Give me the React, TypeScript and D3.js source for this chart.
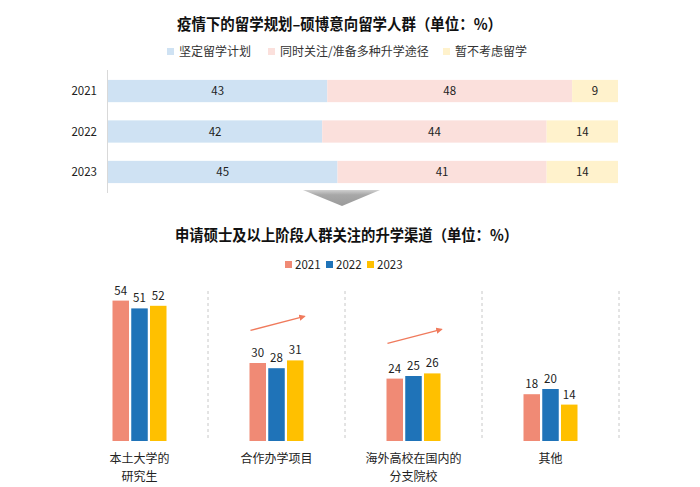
import { useEffect } from 'react';
import * as d3 from 'd3';

// top chart: stacked 100% bars
const YEARS = ['2021', '2022', '2023'];
const PLAN_SERIES = ['坚定留学计划', '同时关注/准备多种升学途径', '暂不考虑留学'];
const PLAN_VALUES = [
  [43, 48, 9],
  [42, 44, 14],
  [45, 41, 14],
];
const PLAN_COLORS = ['#CFE2F3', '#FBE0DC', '#FFF2CC'];

// bottom chart: grouped bars
const CHANNELS = [['本土大学的', '研究生'], ['合作办学项目'], ['海外高校在国内的', '分支院校'], ['其他']];
const CHANNEL_VALUES = [
  [54, 51, 52],
  [30, 28, 31],
  [24, 25, 26],
  [18, 20, 14],
];
const YEAR_COLORS = ['#F08A75', '#1F73B8', '#FFC000'];
const TREND_CHANNELS = [1, 2];

const W = 700;
const H = 487;
const FONT = '"Noto Sans CJK SC", "Noto Sans", sans-serif';

export default function App() {
  useEffect(() => {
    document.body.style.margin = '0';
  }, []);

  // top scales
  const xTop = d3.scaleLinear().domain([0, 100]).range([108, 618]);
  const yTop = d3.scaleBand().domain(YEARS).range([71, 192]).paddingInner(0.45).paddingOuter(0.22);

  // bottom scales
  const xGroup = d3.scaleBand().domain(CHANNELS.map(c => c.join(''))).range([71, 619]);
  const xInner = d3.scaleBand().domain(YEARS).range([0, 54]).paddingInner(0.12);
  const yBot = d3.scaleLinear().domain([0, 60]).range([441, 285]);

  const groupCenter = (i: number) => xGroup(CHANNELS[i].join(''))! + xGroup.bandwidth() / 2;
  const barX = (i: number, j: number) => groupCenter(i) - 27 + xInner(YEARS[j])!;

  const topLegendX = [171, 272, 447];
  const botLegendX = [289, 330, 371];

  return (
    <svg width={W} height={H} style={{ display: 'block', fontFamily: FONT }}>
      <defs>
        <marker id="arrowhead" viewBox="0 0 10 10" refX="8" refY="5" markerWidth="5" markerHeight="5" orient="auto">
          <path d="M0,0 L10,5 L0,10 z" fill="#F07A5C" />
        </marker>
        <linearGradient id="tri" x1="0" y1="0" x2="0" y2="1">
          <stop offset="0" stopColor="#cfcfcf" />
          <stop offset="0.3" stopColor="#a8a8a8" />
          <stop offset="1" stopColor="#9a9a9a" />
        </linearGradient>
      </defs>
      <rect width={W} height={H} fill="#fff" />

      {/* top title */}
      <text x={177} y={30} fontSize={15.5} fontWeight="bold" fill="#111" textLength={325} lengthAdjust="spacingAndGlyphs">
        疫情下的留学规划–硕博意向留学人群（单位：%）
      </text>
      {PLAN_SERIES.map((s, k) => (
        <g key={s}>
          <rect x={topLegendX[k] - 4} y={48} width={7} height={7} fill={PLAN_COLORS[k]} />
          <text x={topLegendX[k] + 8} y={56} fontSize={12} fill="#333">{s}</text>
        </g>
      ))}

      {/* top stacked bars */}
      <line x1={xTop(0) - 0.5} x2={xTop(0) - 0.5} y1={70} y2={193} stroke="#d9d9d9" />
      {YEARS.map((yr, i) => {
        let acc = 0;
        const y0 = yTop(yr)!;
        const bh = yTop.bandwidth();
        return (
          <g key={yr}>
            <text x={97} y={y0 + bh / 2 + 4} textAnchor="end" fontSize={11.5} fill="#222">{yr}</text>
            {PLAN_VALUES[i].map((v, k) => {
              const start = acc;
              acc += v;
              return (
                <g key={k}>
                  <rect x={xTop(start)} y={y0} width={xTop(acc) - xTop(start)} height={bh} fill={PLAN_COLORS[k]} />
                  <text x={(xTop(start) + xTop(acc)) / 2} y={y0 + bh / 2 + 4} textAnchor="middle" fontSize={11.5} fill="#222">
                    {v}
                  </text>
                </g>
              );
            })}
          </g>
        );
      })}

      {/* down arrow triangle */}
      <path d="M303,190 L380,190 L342,206 Z" fill="url(#tri)" />

      {/* bottom title */}
      <text x={175} y={241} fontSize={15.5} fontWeight="bold" fill="#111" textLength={343} lengthAdjust="spacingAndGlyphs">
        申请硕士及以上阶段人群关注的升学渠道（单位：%）
      </text>
      {YEARS.map((yr, j) => (
        <g key={yr}>
          <rect x={botLegendX[j] - 4} y={261} width={7} height={7} fill={YEAR_COLORS[j]} />
          <text x={botLegendX[j] + 6} y={269} fontSize={11.5} fill="#222">{yr}</text>
        </g>
      ))}

      {/* dashed separators */}
      {CHANNELS.map((c, i) => {
        const x = xGroup(c.join(''))! + xGroup.bandwidth();
        return <line key={i} x1={x} x2={x} y1={291} y2={440} stroke="#c8c8c8" strokeDasharray="3,3" />;
      })}

      {/* grouped bars */}
      {CHANNELS.map((c, i) => (
        <g key={c.join('')}>
          {CHANNEL_VALUES[i].map((v, j) => (
            <g key={j}>
              <rect x={barX(i, j)} y={yBot(v)} width={xInner.bandwidth()} height={yBot(0) - yBot(v)} fill={YEAR_COLORS[j]} />
              <text x={barX(i, j) + xInner.bandwidth() / 2} y={yBot(v) - 6} textAnchor="middle" fontSize={11.5} fill="#222">
                {v}
              </text>
            </g>
          ))}
          {c.map((line, l) => (
            <text key={l} x={groupCenter(i)} y={463 + l * 18} textAnchor="middle" fontSize={12} fill="#222">
              {line}
            </text>
          ))}
        </g>
      ))}

      {/* trend arrows */}
      {TREND_CHANNELS.map(i => {
        const top = yBot(d3.max(CHANNEL_VALUES[i])!);
        const x1 = barX(i, 0) + 1;
        const x2 = barX(i, 2) + xInner.bandwidth() + 1;
        return (
          <line key={i} x1={x1} y1={top - 30} x2={x2} y2={top - 44} stroke="#F07A5C" strokeWidth={1.3} markerEnd="url(#arrowhead)" />
        );
      })}
    </svg>
  );
}
